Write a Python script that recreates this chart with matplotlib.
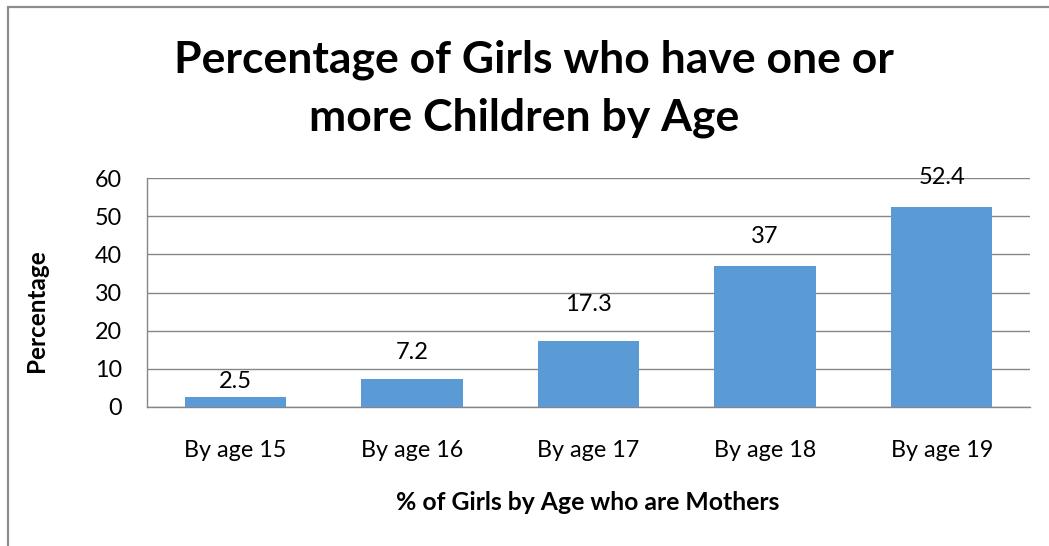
import matplotlib
matplotlib.use("Agg")
import matplotlib.pyplot as plt
from matplotlib.patches import Rectangle

categories = ["By age 15", "By age 16", "By age 17", "By age 18", "By age 19"]
values = [2.5, 7.2, 17.3, 37, 52.4]
value_labels = ["2.5", "7.2", "17.3", "37", "52.4"]
y_ticks = [0, 10, 20, 30, 40, 50, 60]

plt.rcParams['font.family'] = ['Lato', 'DejaVu Sans']

W, H = 1049, 546
fig = plt.figure(figsize=(W / 100, H / 100), dpi=100)
fig.patch.set_facecolor("white")

# outer chart frame (extends past the right and bottom edges)
fig.patches.append(Rectangle((8 / W, -0.05), 1.1, 1 - 7 / H + 0.05,
                             transform=fig.transFigure, fill=False,
                             edgecolor="#8c8c8c", linewidth=1.6))

left, right, top, bottom = 147, 1030, 178.3, 406.7
ax = fig.add_axes([left / W, 1 - bottom / H, (right - left) / W, (bottom - top) / H])

grid_c = "#868686"
x = range(len(categories))
ax.bar(x, values, width=0.575, color="#5B9BD5", zorder=3)
ax.set_xlim(-0.5, len(categories) - 0.5)
ax.set_ylim(0, 60)
ax.set_yticks(y_ticks)
ax.set_xticks(list(x))
ax.set_xticklabels(categories)
ax.yaxis.grid(True, color=grid_c, linewidth=1.0, zorder=0)
ax.tick_params(axis="both", length=0, labelsize=16.8, colors="black")
ax.tick_params(axis="y", pad=18)
ax.tick_params(axis="x", pad=24)
for s in ["top", "right"]:
    ax.spines[s].set_visible(False)
for s in ["left", "bottom"]:
    ax.spines[s].set_color(grid_c)
    ax.spines[s].set_linewidth(1.0)

# label offsets above each bar top, in points
label_offsets = [11.5, 19.5, 26, 21, 21.5]
for xi, v, lab, off in zip(x, values, value_labels, label_offsets):
    ax.annotate(lab, (xi, v), xytext=(0, off), textcoords="offset points",
                ha="center", va="center", fontsize=17)

fig.text(534 / W, 1 - 60 / H, "Percentage of Girls who have one or",
         ha="center", va="center", fontsize=32, fontweight="bold")
fig.text(524 / W, 1 - 118 / H, "more Children by Age",
         ha="center", va="center", fontsize=32, fontweight="bold")
fig.text(37 / W, 1 - 311 / H, "Percentage", rotation=90,
         ha="center", va="center", fontsize=17.5, fontweight="bold")
fig.text(588 / W, 1 - 502 / H, "% of Girls by Age who are Mothers",
         ha="center", va="center", fontsize=17.8, fontweight="bold")

fig.savefig("out.png", dpi=100, facecolor="white")
